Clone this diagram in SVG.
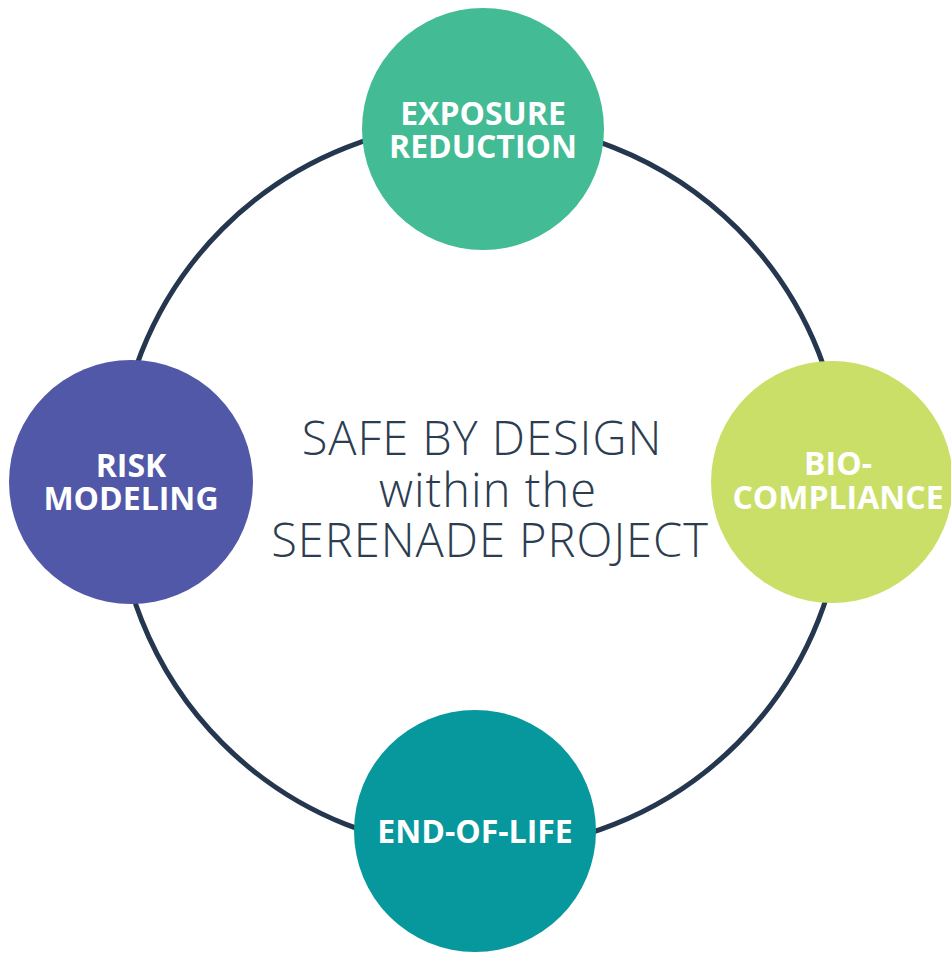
<svg xmlns="http://www.w3.org/2000/svg" width="951" height="954" viewBox="0 0 951 954">
<style>
.node-label{font-family:"Open Sans","Liberation Sans",sans-serif;font-weight:700;font-size:32px;fill:#ffffff;text-anchor:middle}
.title{font-family:"Open Sans","Liberation Sans",sans-serif;font-weight:300;font-size:47px;letter-spacing:1px;fill:#2c3d52;text-anchor:middle}
</style>
<rect width="951" height="954" fill="#ffffff"/>
<g id="connectors">
<circle cx="480" cy="486" r="364" fill="none" stroke="#24374f" stroke-width="5"/>
</g>
<g id="title">
<text class="title" x="482" y="455">SAFE BY DESIGN</text>
<text class="title" x="488" y="507">within the</text>
<text class="title" x="490" y="557">SERENADE PROJECT</text>
</g>
<g id="exposure-reduction">
<circle cx="483" cy="129" r="121" fill="#43bb94"/>
<text class="node-label" x="483" y="125">EXPOSURE</text>
<text class="node-label" x="483" y="158">REDUCTION</text>
</g>
<g id="risk-modeling">
<circle cx="131" cy="482" r="122" fill="#5158a8"/>
<text class="node-label" x="131" y="477">RISK</text>
<text class="node-label" x="131" y="510">MODELING</text>
</g>
<g id="bio-compliance">
<circle cx="832" cy="482" r="121" fill="#c9df67"/>
<text class="node-label" x="838" y="475">BIO-</text>
<text class="node-label" x="838" y="509">COMPLIANCE</text>
</g>
<g id="end-of-life">
<circle cx="475" cy="831" r="121" fill="#06989c"/>
<text class="node-label" x="475" y="843">END-OF-LIFE</text>
</g>
</svg>
